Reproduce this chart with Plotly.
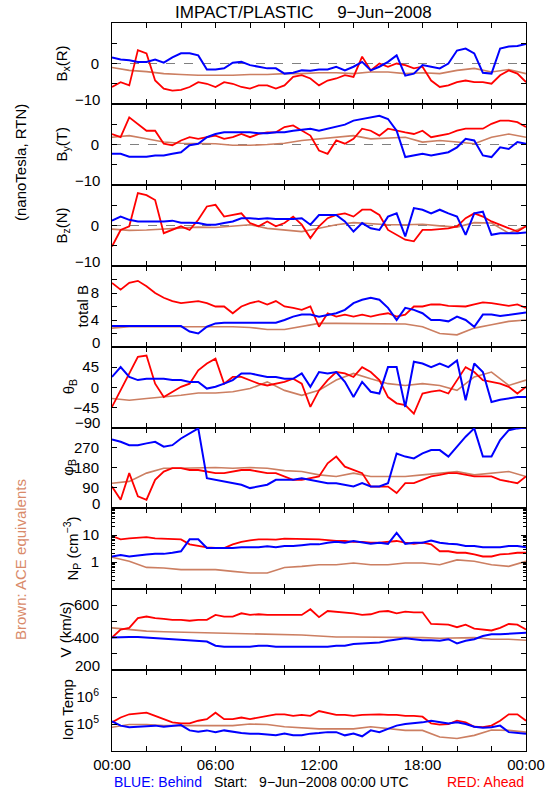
import plotly.graph_objects as go
import pandas as pd

# ---------------- time grids ----------------
T30 = pd.date_range("2008-06-09 00:00", "2008-06-10 00:00", freq="30min")  # 49 samples
T60 = pd.date_range("2008-06-09 00:00", "2008-06-10 00:00", freq="60min")  # 25 samples
MAJOR_TIMES = pd.date_range("2008-06-09 00:00", "2008-06-10 00:00", freq="6h")
MAJOR_LABELS = ["00:00", "06:00", "12:00", "18:00", "00:00"]

# ---------------- Bx (R) nT ----------------
BX_BLUE = [1.5, 1, 0.8, 0.4, 0.4, 1, 0.2, 1.5,
           2.5, 2.5, 2, -1.5, -1.5, -1.2, 0.2, 0.4,
           -0.4, -0.8, -1.2, -1.2, -2.5, -2.3, -1.7, -1.8,
           -1.5, -1.5, -0.8, -1.7, -0.8, 0.4, -1.7, -0.8,
           0.4, 2, -3, -2.5, -0.4, -0.8, -1.2, 0,
           3.2, 3.7, 2.5, -2.3, -2.5, 3.7, 4.2, 4.3, 4.8]
BX_RED = [-5.8, -4.6, -5.4, 3.3, 2.5, -4.2, -6.2, -6.7,
          -6.5, -5.8, -4.6, -5, -5.8, -4.6, -5, -5.8,
          -6.2, -5.4, -5.4, -6.2, -5.4, -3.3, -2.9, -3.7,
          -5.4, -4.2, -3.7, -2.9, -3.3, 1.7, -1.7, 0,
          -0.8, 0, -0.4, -1.2, -0.8, -4.2, -5.8, -5.4,
          -4.6, -4.2, -4.6, -4.6, -5, -2.9, -1.7, -2.5, -4.6]
BX_BROWN = [-1, -1.7, -2, -2.5, -2.7, -2.9, -2.9, -2.9, -2.7, -2.7, -2.5, -2.5, -2.3,
            -2.3, -2.5, -2.1, -2.1, -2.5, -2.3, -2.5, -1.7, -1.2, -2.1, -1.5, -2.5]

# ---------------- By (T) nT ----------------
BY_BLUE = [-2.3, -2.3, -3, -3, -3, -2.7, -2.7, -2.3,
           -1.9, -0.2, 0.2, 1.8, 2.6, 3, 3, 3,
           3, 2.8, 2.8, 3, 3, 3.4, 3.6, 3.9,
           3.4, 3.9, 4.3, 4.9, 5.9, 6.3, 6.7, 7.1,
           6.3, 3.4, -3.1, -2.7, -2.3, -2.7, -2.3, -1.9,
           -0.7, 1.4, 1, -2.7, -3.1, -0.7, -1.1, 0.6, 0.2]
BY_RED = [2.6, 1.8, 6.7, 5.1, 3.4, 3.4, 0.2, -0.2,
          1, 1.8, 1.4, 1.8, 2.2, 1.4, 1.8, 2.6,
          1.8, 2.6, 3, 3, 4.3, 4.7, 3.4, 2.2,
          -1.5, -2.3, 1, 0.2, 1.4, 3.9, 3.4, 2.2,
          3.9, 3.4, 3, 2.6, 3.4, 1.8, 2.2, 2.6,
          3.4, 3.9, 3.9, 3.9, 5.1, 5.9, 5.9, 5.5, 4.3]
BY_BROWN = [1.8, 2.2, 1.4, 0.6, 0.3, 0.2, 0.2, -0.2, -0.2, 0, 0.3, 1, 1.4,
            1.8, 2.2, 1.4, 1.6, 1.8, 0.6, 1, 0.6, 0.2, 1.8, 2.6, 1.8]

# ---------------- Bz (N) nT ----------------
BZ_BLUE = [1.2, 2.2, 1.4, 1, 1, 1, 1, 1.2,
           0.7, 0.7, 0.6, 0.2, 0.2, 0.6, 1, 1.8,
           1.8, 1.6, 1.8, 1.6, 1.6, 1.6, 1.8, 0.2,
           2.6, 2.6, 2.6, 1, -1.5, 0.6, -0.7, -1.1,
           2.2, 3, -2.7, 4.3, 3.9, 3, 3.9, 3,
           2.2, -2.3, 3, 3.4, -2.3, -1.9, -1.9, -1.9, -1.7]
BZ_RED = [-5.2, -1.1, -0.2, 8, 7.5, 6.3, -1.9, -1.1,
          -0.2, -1.1, 1.4, 4.7, 5.1, 2.2, 2.6, 3,
          0.6, -0.2, 1, -0.2, 0.6, 2.2, 0.2, -3.1,
          -0.2, 1.8, 2.6, 3, 2.2, 3.9, 3.9, 2.6,
          -1.1, -2.3, -3.5, -3.9, -1.1, -1.1, -0.9, -0.7,
          -0.2, 1.8, 3, 2.2, 1, 0.2, -0.7, -1.5, -0.2]
BZ_BROWN = [-0.9, -1.2, -1.1, -0.9, -0.7, -0.4, -0.5, -0.2, 0.2, -0.7, -1.1, -1.5, -0.7,
            0.2, 0.7, 0.4, 0.2, 0.2, 0.3, -0.1, -0.4, 0.7, 0.6, -1.9, -0.2]

# ---------------- total B nT ----------------
BT_BLUE = [3.1, 3.1, 3.1, 3.1, 3.1, 3.1, 3.1, 3.1,
           3.1, 2.3, 2, 3, 3.5, 3.6, 3.6, 3.5,
           3.5, 3.5, 3.6, 3.6, 4, 4.5, 4.8, 4.8,
           4.5, 4.8, 5, 5.5, 6.5, 7, 7.3, 7,
           5.8, 4, 5.8, 5.5, 5, 4, 4, 3.8,
           4.5, 4, 3, 4.8, 4.8, 4.6, 4.8, 5, 5.1]
BT_RED = [9.5, 8.5, 9.5, 9.8, 9, 8, 7.3, 6.8,
          6.5, 6.6, 6.8, 6.5, 6, 6, 5, 6,
          6.5, 6.8, 6.3, 6.8, 6, 5.8, 5.5, 6,
          3, 5, 4.5, 4.8, 4.5, 4.8, 4.5, 4.8,
          5, 4.5, 4.8, 6, 6, 6.3, 6.3, 6.1,
          6, 6, 6.3, 6.6, 6.5, 6.3, 6.1, 6.3, 5.8]
BT_BROWN = [2.8, 3, 3, 3, 3, 3.1, 3, 3, 2.9, 2.6, 2.6, 3, 3.5,
            3.5, 3.5, 3.5, 3.4, 3.4, 3, 2, 1.8, 2.8, 3.3, 3.8, 4]

# ---------------- theta_B deg ----------------
TH_BLUE = [23, 45, 23, 16, 19, 19, 19, 16,
           16, 12, 12, -3, 1, 8, 16, 31,
           31, 27, 23, 23, 19, 19, 31, 1,
           34, 31, 34, 12, -22, 12, -10, -14,
           45, 45, -44, 57, 53, 45, 53, 45,
           60, -29, 53, 34, -33, -28, -25, -22, -22]
TH_RED = [-44, -7, 31, 68, 71, 8, -22, -10,
          1, 8, 38, 53, 64, 8, 23, 23,
          16, 8, 4, 8, 12, 19, 8, -44,
          -7, 16, 34, 31, 23, 45, 34, 16,
          -22, -36, -40, -59, -14, -10, -7, -14,
          16, 45, 34, 16, 12, 8, 1, -14, 1]
TH_BROWN = [-25, -29, -25, -22, -18, -13, -13, -10, -3, 12, -7, -18, -7,
            16, 31, 19, 8, 4, 8, 4, -7, 23, 34, 4, 16]

# ---------------- phi_B deg ----------------
PH_BLUE = [307, 296, 281, 281, 289, 296, 274, 281,
           311, 333, 356, 133, 126, 119, 111, 104,
           89, 96, 104, 126, 126, 126, 133, 126,
           119, 111, 111, 104, 96, 111, 96, 96,
           111, 244, 230, 222, 244, 259, 259, 230,
           274, 319, 356, 230, 230, 304, 348, 356, 360]
PH_RED = [96, 37, 156, 52, 37, 126, 163, 178,
          178, 170, 170, 163, 156, 156, 163, 170,
          170, 163, 156, 156, 141, 126, 126, 133,
          141, 200, 230, 185, 170, 156, 96, 96,
          96, 67, 111, 111, 126, 141, 148, 156,
          156, 148, 141, 141, 141, 126, 119, 111, 141]
PH_BROWN = [111, 119, 156, 178, 178, 181, 181, 178, 181, 178, 167, 163, 148,
            141, 156, 141, 141, 141, 148, 156, 163, 148, 156, 163, 141]

# ---------------- Np cm^-3 ----------------
NP_BLUE = [1.6, 1.8, 1.6, 1.8, 1.9, 2, 2, 2.2,
           2.5, 6.9, 6.9, 3.3, 3.3, 3.2, 3.3, 3.5,
           3.5, 3.5, 3.8, 3.5, 3.9, 3.9, 4.2, 4.5,
           4.5, 5.2, 5.6, 5.2, 6, 5.2, 4.7, 5.2,
           4.7, 12, 4.7, 5.2, 5.2, 6.3, 5.2, 4.7,
           4.5, 3.9, 3.9, 3.5, 3.5, 3.5, 3.9, 3.9, 3.5]
NP_RED = [9.2, 6.9, 7.5, 7.9, 8.4, 7.5, 7.3, 6.9,
          6.9, 4.5, 3.9, 3.5, 3.3, 3.3, 4.5, 5.6,
          6.3, 6.9, 6.9, 6.7, 7.3, 7.3, 7.3, 6.9,
          6.9, 6.5, 6, 6, 5.6, 5.6, 5.2, 5.2,
          5.6, 6, 5.2, 4.7, 5.2, 4.5, 2.5, 2.5,
          2.2, 2.2, 1.9, 1.6, 1.6, 1.9, 2, 2.2, 2.2]
NP_BROWN = [1.5, 1.06, 0.63, 0.6, 0.52, 0.52, 0.52, 0.45, 0.39, 0.39, 0.63, 0.69, 0.79,
            0.79, 0.92, 0.79, 0.79, 0.92, 0.92, 0.79, 1.2, 1.06, 0.79, 0.69, 1.06]

# ---------------- V km/s ----------------
V_BLUE = [400, 404, 404, 404, 400, 400, 396, 390,
          384, 380, 376, 376, 350, 344, 344, 344,
          344, 350, 350, 344, 344, 340, 340, 344,
          344, 344, 350, 350, 360, 364, 370, 370,
          380, 390, 396, 390, 384, 384, 380, 390,
          364, 380, 390, 410, 420, 420, 424, 430, 430]
V_RED = [400, 450, 460, 520, 530, 520, 516, 510,
         510, 504, 510, 510, 540, 530, 530, 550,
         540, 544, 540, 540, 544, 540, 540, 575,
         526, 564, 560, 556, 550, 540, 544, 560,
         564, 550, 560, 556, 556, 484, 484, 480,
         464, 480, 456, 450, 444, 460, 484, 480, 450]
V_BROWN = [460, 450, 440, 436, 434, 430, 430, 424, 424, 420, 420, 416, 410,
           404, 404, 404, 404, 404, 400, 396, 396, 400, 390, 390, 384]

# ---------------- Ion temperature K ----------------
TI_BLUE = [126000, 87000, 76000, 79000, 87000, 87000, 79000, 87000,
           91000, 58000, 52000, 58000, 50000, 58000, 50000, 46000,
           44000, 44000, 41000, 38000, 44000, 38000, 38000, 44000,
           46000, 50000, 50000, 38000, 44000, 35000, 58000, 50000,
           66000, 87000, 100000, 105000, 115000, 132000, 115000, 105000,
           115000, 100000, 79000, 72000, 76000, 87000, 50000, 46000, 44000]
TI_RED = [115000, 174000, 229000, 245000, 263000, 200000, 151000, 115000,
          105000, 105000, 132000, 151000, 263000, 151000, 151000, 174000,
          151000, 174000, 200000, 229000, 229000, 200000, 219000, 200000,
          302000, 263000, 219000, 219000, 200000, 219000, 229000, 229000,
          219000, 219000, 200000, 200000, 186000, 105000, 95500, 100000,
          132000, 115000, 79000, 76000, 87000, 132000, 229000, 229000, 132000]
TI_BROWN = [76000, 95500, 95500, 87000, 87000, 87000, 87000, 87000, 100000, 95500, 79000,
            72000, 66000, 66000, 66000, 79000, 66000, 58000, 58000, 33000, 29000, 38000,
            60000, 58000, 50000]

BLUE = "#0000ff"
RED = "#ff0000"
BROWN = "#cc7f62"
FONT = "Liberation Sans"

W, H = 550, 800
X0, X1 = 112, 526
EDGES = [23, 104, 185, 266, 347, 427.5, 508, 589, 670, 751]
MINUS = "\u2212"

# labelled ticks (tv/tt), unlabelled ticks (mv), label at the bottom edge (bot)
panels = [
    dict(blue=BX_BLUE, red=BX_RED, brown=BX_BROWN, rng=[-10, 10], log=False,
         tv=[0], tt=["0"], mv=[-5, 5], bot=(-10, MINUS + "10"), zero=True,
         title="B<sub>x</sub>(R)", tx=62),
    dict(blue=BY_BLUE, red=BY_RED, brown=BY_BROWN, rng=[-10, 10], log=False,
         tv=[0], tt=["0"], mv=[-5, 5], bot=(-10, MINUS + "10"), zero=True,
         title="B<sub>y</sub>(T)", tx=62),
    dict(blue=BZ_BLUE, red=BZ_RED, brown=BZ_BROWN, rng=[-10, 10], log=False,
         tv=[0], tt=["0"], mv=[-5, 5], bot=(-10, MINUS + "10"), zero=True,
         title="B<sub>z</sub>(N)", tx=62),
    dict(blue=BT_BLUE, red=BT_RED, brown=BT_BROWN, rng=[0, 12], log=False,
         tv=[4, 8], tt=["4", "8"], mv=[2, 6, 10], bot=(0, "0"), zero=False,
         title="total B", tx=82),
    dict(blue=TH_BLUE, red=TH_RED, brown=TH_BROWN, rng=[-90, 90], log=False,
         tv=[-45, 0, 45], tt=[MINUS + "45", "0", "45"], mv=[], bot=(-90, MINUS + "90"),
         zero=False, title="\u03b8<sub>B</sub>", tx=69),
    dict(blue=PH_BLUE, red=PH_RED, brown=PH_BROWN, rng=[0, 360], log=False,
         tv=[90, 180, 270], tt=["90", "180", "270"], mv=[], bot=(0, "0"), zero=False,
         title="\u03c6<sub>B</sub>", tx=69),
    dict(blue=NP_BLUE, red=NP_RED, brown=NP_BROWN, rng=[-1, 2], log=True,
         tv=[1, 10], tt=["1", "10"],
         mv=[m * d for d in (0.1, 1, 10) for m in range(2, 10)], bot=None, zero=False,
         title="N<sub>P</sub> (cm<sup>" + MINUS + "3</sup>)", tx=72),
    dict(blue=V_BLUE, red=V_RED, brown=V_BROWN, rng=[200, 700], log=False,
         tv=[400, 600], tt=["400", "600"], mv=[300, 500], bot=(200, "200"), zero=False,
         title="V (km/s)", tx=65),
    dict(blue=TI_BLUE, red=TI_RED, brown=TI_BROWN, rng=[4, 7], log=True,
         tv=[1e5, 1e6], tt=["10<sup>5</sup>", "10<sup>6</sup>"], mv=[], bot=None, zero=False,
         title="Ion Temp", tx=67),
]

fig = go.Figure()
layout = dict(
    width=W, height=H, margin=dict(l=0, r=0, t=0, b=0, autoexpand=False),
    paper_bgcolor="white", plot_bgcolor="white", showlegend=False,
    font=dict(family=FONT, size=14, color="black"),
)
shapes = []
annotations = []
TICKFONT = dict(family=FONT, size=15, color="black")
STANDOFF = 9

for i, p in enumerate(panels, start=1):
    xa = "x" if i == 1 else f"x{i}"
    ya = "y" if i == 1 else f"y{i}"
    top, bot = EDGES[i - 1], EDGES[i]
    ydom = [1 - bot / H, 1 - top / H]
    fig.add_trace(go.Scatter(x=T60, y=p["brown"], mode="lines",
                             line=dict(color=BROWN, width=1.6), xaxis=xa, yaxis=ya,
                             hoverinfo="skip"))
    fig.add_trace(go.Scatter(x=T30, y=p["red"], mode="lines",
                             line=dict(color=RED, width=1.8), xaxis=xa, yaxis=ya,
                             hoverinfo="skip"))
    fig.add_trace(go.Scatter(x=T30, y=p["blue"], mode="lines",
                             line=dict(color=BLUE, width=2), xaxis=xa, yaxis=ya,
                             hoverinfo="skip"))
    xkey = "xaxis" if i == 1 else f"xaxis{i}"
    ykey = "yaxis" if i == 1 else f"yaxis{i}"
    layout[xkey] = dict(
        domain=[X0 / W, X1 / W], anchor=ya, type="date", automargin=False,
        range=["2008-06-09 00:00", "2008-06-10 00:00"],
        tickvals=list(MAJOR_TIMES), ticktext=MAJOR_LABELS,
        showticklabels=(i == len(panels)),
        ticks="inside", ticklen=5, tickcolor="black", tickwidth=1,
        minor=dict(dtick=2 * 3600 * 1000, tick0="2008-06-09 00:00", ticks="inside",
                   ticklen=5, tickcolor="black", tickwidth=1, showgrid=False),
        showline=True, linecolor="black", linewidth=1, mirror="ticks",
        showgrid=False, zeroline=False, tickfont=TICKFONT,
    )
    if i != 1:
        layout[xkey]["matches"] = "x"
    yd = dict(
        domain=ydom, anchor=xa, range=p["rng"], automargin=False,
        tickvals=p["tv"], ticktext=p["tt"],
        ticks="inside", ticklen=5, tickcolor="black", tickwidth=1,
        ticklabelstandoff=STANDOFF,
        showline=True, linecolor="black", linewidth=1, mirror="ticks",
        showgrid=False, zeroline=False, tickfont=TICKFONT,
    )
    if p["mv"]:
        yd["minor"] = dict(tickvals=p["mv"], ticks="inside",
                           ticklen=3 if p["log"] else 5,
                           tickcolor="black", tickwidth=1, showgrid=False)
    if p["log"]:
        yd["type"] = "log"
    layout[ykey] = yd
    if p["zero"]:
        shapes.append(dict(type="line", xref=f"{xa} domain", yref=ya,
                           x0=0, x1=1, y0=0, y1=0,
                           line=dict(color="#808080", width=1, dash="dash"),
                           layer="below"))
    if p["bot"] is not None:
        val, txt = p["bot"]
        annotations.append(dict(
            text=txt, xref="paper", yref=ya, x=(X0 - STANDOFF - 1) / W, y=val,
            xanchor="right", yanchor="middle", yshift=5, showarrow=False,
            font=TICKFONT))
    annotations.append(dict(
        text=p["title"], xref="paper", yref="paper",
        x=p["tx"] / W, y=1 - (top + bot) / 2 / H, textangle=-90,
        xanchor="center", yanchor="middle", showarrow=False,
        font=dict(family=FONT, size=15, color="black")))

annotations += [
    dict(text="IMPACT/PLASTIC\u00a0\u00a0\u00a0\u00a0\u00a09" + MINUS + "Jun" + MINUS + "2008",
         xref="paper", yref="paper", x=303 / W, y=1 - 12 / H,
         xanchor="center", yanchor="middle", showarrow=False,
         font=dict(family=FONT, size=17, color="black")),
    dict(text="(nanoTesla, RTN)", xref="paper", yref="paper", x=20 / W, y=1 - 163 / H,
         textangle=-90, xanchor="center", yanchor="middle", showarrow=False,
         font=dict(family=FONT, size=15, color="black")),
    dict(text="Brown: ACE equivalents", xref="paper", yref="paper", x=20 / W, y=1 - 560 / H,
         textangle=-90, xanchor="center", yanchor="middle", showarrow=False,
         font=dict(family=FONT, size=15, color="#d98a6a")),
    dict(text="BLUE: Behind", xref="paper", yref="paper", x=112 / W, y=1 - 782 / H,
         xanchor="left", yanchor="middle", showarrow=False,
         font=dict(family=FONT, size=14, color=BLUE)),
    dict(text="Start:\u00a0\u00a0\u00a09" + MINUS + "Jun" + MINUS + "2008 00:00 UTC",
         xref="paper", yref="paper",
         x=212 / W, y=1 - 782 / H, xanchor="left", yanchor="middle", showarrow=False,
         font=dict(family=FONT, size=14, color="black")),
    dict(text="RED: Ahead", xref="paper", yref="paper", x=526 / W, y=1 - 782 / H,
         xanchor="right", yanchor="middle", showarrow=False,
         font=dict(family=FONT, size=14, color=RED)),
]

layout["shapes"] = shapes
layout["annotations"] = annotations
fig.update_layout(**layout)
fig.write_html("out.html", config={"displayModeBar": False},
               post_script="document.body.style.margin='0';document.body.style.padding='0';")
